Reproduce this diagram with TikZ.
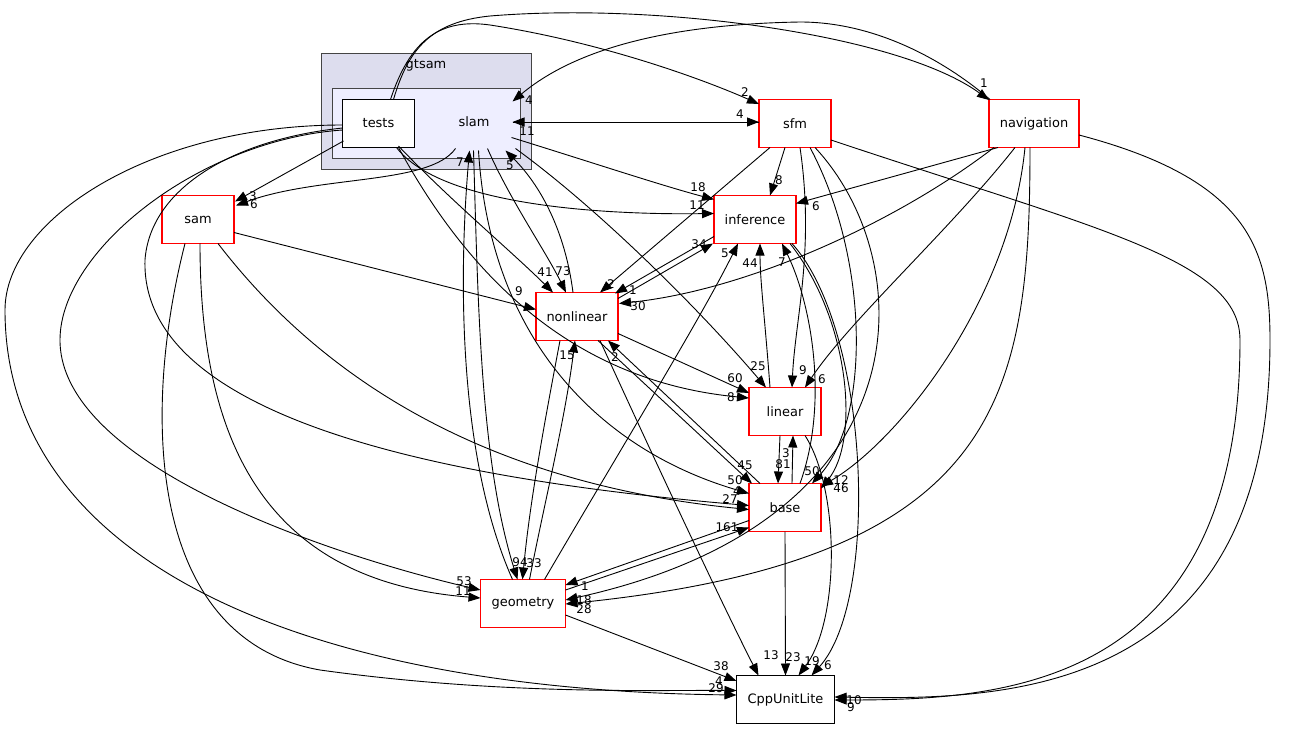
\documentclass[tikz,border=0pt]{standalone}
\usepackage{fontspec}
\setmainfont{DejaVu Sans}
\usetikzlibrary{arrows.meta,calc}
\definecolor{outerc}{HTML}{DDDDEE}
\definecolor{innerc}{HTML}{EEEEFF}
\definecolor{clborder}{HTML}{444444}
\definecolor{dirred}{HTML}{FF0000}
\begin{document}
\begin{tikzpicture}[x=1bp,y=-1bp,
  dirbox/.style={draw=dirred, fill=white, line width=1.7bp, minimum width=#1, minimum height=48bp, inner sep=0pt, font=\fontsize{13}{15}\selectfont},
  plainbox/.style={draw=black, fill=white, line width=1.1bp, minimum width=#1, minimum height=48bp, inner sep=0pt, font=\fontsize{13}{15}\selectfont},
  con/.style={draw, line width=0.9bp, -{Triangle[length=12bp,width=9bp]}},
  lab/.style={inner sep=0pt, font=\fontsize{12}{14}\selectfont},
  cl/.style={draw=clborder, line width=1.1bp, inner sep=0pt}]
\useasboundingbox (0,0) rectangle (1293,729);
% clusters
\node[cl, fill=outerc, minimum width=210bp, minimum height=116bp] (gtsam) at (426.5,111.5) {};
\node[inner sep=0pt, font=\fontsize{13}{15}\selectfont] (gtsamlab) at (426,65) {gtsam};
\node[cl, fill=innerc, minimum width=188bp, minimum height=70bp] (slamc) at (426.5,123.5) {};
\node[inner sep=0pt, font=\fontsize{13}{15}\selectfont] (slam) at (474,122) {slam};
% nodes
\node[plainbox=72bp] (tests) at (378.5,123.5) {tests};
\node[dirbox=72bp] (sfm) at (795,123.5) {sfm};
\node[dirbox=90bp] (navigation) at (1034,123.5) {navigation};
\node[dirbox=82bp] (inference) at (755,219.5) {inference};
\node[dirbox=72bp] (sam) at (198,219.5) {sam};
\node[dirbox=82bp] (nonlinear) at (577,316.5) {nonlinear};
\node[dirbox=72bp] (linear) at (785,411.5) {linear};
\node[dirbox=72bp] (base) at (785,507.5) {base};
\node[dirbox=85bp] (geometry) at (523,603.5) {geometry};
\node[plainbox=98bp] (cpp) at (785.5,699.5) {CppUnitLite};

% edges from tests
\path[con] ($(tests)+(12,-24)$) .. controls (410,40) and (440,18) .. (490,25) .. controls (600,42) and (700,78) .. ($(sfm)+(-36,-19.5)$);
\node[lab] (l1) at (745,92) {2};
\path[con] ($(tests)+(15,-24)$) .. controls (408,50) and (430,22) .. (490,16) .. controls (660,2) and (900,35) .. ($(navigation)+(-45,-23.5)$);
\node[lab] (l2) at (984,83) {1};
\path[con] ($(tests)+(-35,17.5)$) -- ($(sam)+(37,-18)$);
\node[lab] (l3) at (253,196) {3};
\path[con] ($(tests)+(18,24)$) .. controls (440,205) and (600,215) .. ($(inference)+(-41,-6)$);
\node[lab] (l4) at (697,205) {11};
\path[con] ($(tests)+(20,22.5)$) .. controls (450,200) and (510,250) .. ($(nonlinear)+(-24,-24)$);
\node[lab] (l5) at (545,272) {41};
\path[con] ($(tests)+(20,24)$) .. controls (460,260) and (560,380) .. ($(linear)+(-36,-13.5)$);
\node[lab] (l6) at (731,397) {8};
\path[con] ($(tests)+(-36,6.5)$) .. controls (200,140) and (60,250) .. (60,340) .. controls (60,470) and (350,560) .. ($(geometry)+(-42.5,-13.5)$);
\node[lab] (l7) at (464,581) {53};
\path[con] ($(tests)+(-36,4.5)$) .. controls (230,140) and (150,190) .. (145,260) .. controls (140,420) and (450,480) .. ($(base)+(-36,-2)$);
\node[lab] (l8) at (730,499) {27};
\path[con] ($(tests)+(-36,1.5)$) .. controls (150,125) and (5,220) .. (5,310) .. controls (5,560) and (300,690) .. ($(cpp)+(-49,-4.5)$);
\node[lab] (l9) at (716,688) {29};

% edges from slam
\path[con] ($(navigation)+(-44,-24)$) .. controls (950,65) and (880,22) .. (800,22) .. controls (680,24) and (580,45) .. ($(slamc)+(86,-22)$);
\node[lab] (l10) at (529,100) {4};
\path[con] ($(sfm)+(-36,-1.5)$) -- ($(slamc)+(86,-1.5)$);
\node[lab] (l11) at (527,131) {11};
\path[con] ($(slamc)+(86,-1.5)$) -- ($(sfm)+(-36,-1.5)$);
\node[lab] (l12) at (740,114) {4};
\path[con] ($(slamc)+(29,25)$) .. controls (430,185) and (320,175) .. ($(sam)+(38,-14)$);
\node[lab] (l13) at (254,204) {6};
\path[con] ($(slamc)+(85,14)$) .. controls (600,165) and (660,185) .. ($(inference)+(-41,-20)$);
\node[lab] (l14) at (698,187) {18};
\path[con] ($(slamc)+(61,25)$) .. controls (510,200) and (545,250) .. ($(nonlinear)+(-11,-24)$);
\node[lab] (l15) at (563,271) {73};
\path[con] ($(nonlinear)+(-4,-24)$) .. controls (565,230) and (540,185) .. ($(slamc)+(79,27)$);
\node[lab] (l16) at (510,165) {5};
\path[con] ($(slamc)+(89,25)$) .. controls (600,210) and (700,310) .. ($(linear)+(-19,-24)$);
\node[lab] (l17) at (758,366) {25};
\path[con] ($(geometry)+(-10.5,-24)$) .. controls (455,450) and (460,260) .. ($(slamc)+(43,27)$);
\node[lab] (l18) at (460,162) {7};
\path[con] ($(slamc)+(47,27)$) .. controls (478,300) and (480,460) .. ($(geometry)+(-5.5,-24)$);
\node[lab] (l19) at (520,562) {94};
\path[con] ($(slamc)+(52,27)$) .. controls (490,340) and (600,450) .. ($(base)+(-36,-14)$);
\node[lab] (l20) at (735,480) {50};

% sam
\path[con] ($(sam)+(36,13)$) -- ($(nonlinear)+(-41,-7)$);
\node[lab] (l21) at (519,291) {9};
\path[con] ($(sam)+(2,24)$) .. controls (200,420) and (250,580) .. ($(geometry)+(-42.5,-5.5)$);
\node[lab] (l22) at (463,591) {11};
\path[con] ($(sam)+(20,24)$) .. controls (300,350) and (450,480) .. ($(base)+(-36,2)$);
\node[lab] (l23) at (737,491) {4};
\path[con] ($(sam)+(-13,24)$) .. controls (140,420) and (150,640) .. (320,670) .. controls (500,695) and (650,690) .. ($(cpp)+(-49,-9)$);
\node[lab] (l24) at (719,681) {4};

% sfm
\path[con] ($(sfm)+(-10,24)$) -- ($(inference)+(15,-24)$);
\node[lab] (l25) at (779,180) {8};
\path[con] ($(sfm)+(-25,24)$) -- ($(nonlinear)+(23,-24)$);
\node[lab] (l26) at (611,284) {2};
\path[con] ($(sfm)+(5,24)$) .. controls (815,250) and (795,320) .. ($(linear)+(7,-24)$);
\node[lab] (l27) at (803,370) {9};
\path[con] ($(sfm)+(15,24)$) .. controls (870,260) and (870,420) .. ($(base)+(27,-24)$);
\node[lab] (l28) at (812,471) {50};
\path[con] ($(sfm)+(20,24)$) .. controls (920,260) and (930,520) .. ($(geometry)+(42.5,-3.5)$);
\node[lab] (l29) at (584,600) {18};
\path[con] ($(sfm)+(36,16.5)$) .. controls (1100,230) and (1240,260) .. (1240,340) .. controls (1240,690) and (1000,700) .. ($(cpp)+(49,0.5)$);
\node[lab] (l30) at (851,707) {9};

% navigation
\path[con] ($(navigation)+(-36,24)$) -- ($(inference)+(41,-16)$);
\node[lab] (l31) at (816,206) {6};
\path[con] ($(navigation)+(-40,24)$) .. controls (900,220) and (750,290) .. ($(nonlinear)+(42,-13)$);
\node[lab] (l32) at (638,306) {30};
\path[con] ($(navigation)+(-19,24)$) .. controls (950,230) and (850,320) .. ($(linear)+(20,-24)$);
\node[lab] (l33) at (822,379) {6};
\path[con] ($(navigation)+(-9,24)$) .. controls (1010,300) and (900,440) .. ($(base)+(36,-21)$);
\node[lab] (l34) at (841,480) {12};
\path[con] ($(navigation)+(-4,24)$) .. controls (1030,400) and (1000,560) .. ($(geometry)+(42.5,0.5)$);
\node[lab] (l35) at (584,609) {28};
\path[con] ($(navigation)+(45,11.5)$) .. controls (1250,180) and (1270,250) .. (1270,340) .. controls (1270,700) and (1000,700) .. ($(cpp)+(49,-2.5)$);
\node[lab] (l36) at (854,700) {10};

% inference
\path[con] ($(inference)+(-41,17)$) -- ($(nonlinear)+(38,-23)$);
\node[lab] (l37) at (633,290) {1};
\path[con] ($(nonlinear)+(41,-18)$) -- ($(inference)+(-42,24)$);
\node[lab] (l38) at (699,244) {34};
\path[con] ($(inference)+(35,24)$) .. controls (850,320) and (860,440) .. ($(base)+(36,-19)$);
\node[lab] (l39) at (841,488) {46};
\path[con] ($(inference)+(37,24)$) .. controls (870,330) and (880,600) .. ($(cpp)+(26,-24)$);
\node[lab] (l40) at (828,665) {6};

% linear / base / geometry
\path[con] ($(linear)+(-15,-24)$) .. controls (765,320) and (760,280) .. ($(inference)+(5,24)$);
\node[lab] (l41) at (750,263) {44};
\path[con] ($(base)+(15,-24)$) .. controls (830,400) and (810,300) .. ($(inference)+(27,24)$);
\node[lab] (l42) at (782,262) {7};
\path[con] ($(geometry)+(21.5,-24)$) .. controls (620,450) and (700,320) .. ($(inference)+(-17,24)$);
\node[lab] (l43) at (725,253) {5};
\path[con] ($(nonlinear)+(-17,24)$) .. controls (545,420) and (530,500) .. ($(geometry)+(-0.5,-24)$);
\node[lab] (l44) at (534,563) {33};
\path[con] ($(geometry)+(6.5,-24)$) .. controls (545,500) and (565,420) .. ($(nonlinear)+(-2,24)$);
\node[lab] (l45) at (567,355) {15};
\path[con] ($(base)+(-25,-24)$) -- ($(nonlinear)+(31,24)$);
\node[lab] (l46) at (615,357) {2};
\path[con] ($(nonlinear)+(21,24)$) -- ($(base)+(-33,-24)$);
\node[lab] (l47) at (745,465) {45};
\path[con] ($(nonlinear)+(41,17)$) -- ($(linear)+(-36,-18.5)$);
\node[lab] (l48) at (735,378) {60};
\path[con] ($(linear)+(-5,24)$) -- ($(base)+(-7,-24)$);
\node[lab] (l49) at (783,464) {81};
\path[con] ($(base)+(7,-24)$) -- ($(linear)+(8,24)$);
\node[lab] (l50) at (786,453) {3};
\path[con] ($(geometry)+(42.5,-13.5)$) -- ($(base)+(-36,20)$);
\node[lab] (l51) at (727,527) {161};
\path[con] ($(base)+(-36,13)$) -- ($(geometry)+(42.5,-18.5)$);
\node[lab] (l52) at (585,586) {1};

% to CppUnitLite
\path[con] ($(geometry)+(42.5,11.5)$) -- ($(cpp)+(-49,-18.5)$);
\node[lab] (l53) at (721,666) {38};
\path[con] ($(nonlinear)+(23,24)$) .. controls (650,450) and (720,600) .. ($(cpp)+(-27,-24)$);
\node[lab] (l54) at (771,655) {13};
\path[con] ($(base)+(0,24)$) -- ($(cpp)+(0,-24)$);
\node[lab] (l55) at (793,657) {23};
\path[con] ($(linear)+(20,24)$) .. controls (840,490) and (840,620) .. ($(cpp)+(13,-24)$);
\node[lab] (l56) at (812,661) {19};
\end{tikzpicture}
\end{document}
